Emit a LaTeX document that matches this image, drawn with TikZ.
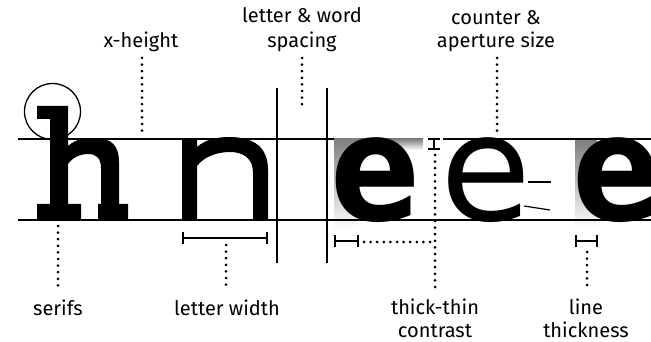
\documentclass[tikz,border=0pt]{standalone}
\usepackage{fontspec}
\usepackage{graphicx}
\setmainfont{Fira Sans}
\newfontfamily\efont{DejaVu Sans}
\definecolor{shade}{RGB}{200,200,200}
\begin{document}
\begin{tikzpicture}[x=1pt,y=-1pt,
  lbl/.style={font=\fontsize{20}{24}\selectfont, inner sep=0pt, anchor=base},
  glyph/.style={inner sep=0pt, anchor=base west},
  guide/.style={line width=2.5pt},
  thinrule/.style={line width=1.3pt},
  dots/.style={line width=3pt, line cap=round, dash pattern=on 0pt off 6.6pt},
  ibeam/.style={line width=2.5pt}]
\useasboundingbox (0,0) rectangle (651,342);
\clip (0,0) rectangle (651,342);
% gray stroke indications
\fill[shade] (334,139) rectangle (423,150);
\fill[shade] (334,139) rectangle (358,229);
\fill[shade] (575,141) rectangle (597,228);
% slab-serif h
\fill (37,106) -- (68,106) -- (68,146)
  .. controls (76,139) and (84,138) .. (95,138)
  .. controls (112,138) and (119,146) .. (119,162)
  -- (119,204) -- (128,204) -- (128,220) -- (98,220) -- (98,204) -- (101,204) -- (101,168)
  .. controls (101,158) and (96,154) .. (88,154)
  .. controls (80,154) and (72,158) .. (68,164)
  -- (68,204) -- (81,204) -- (81,220) -- (37,220) -- (37,204) -- (50,204) -- (50,119) -- (37,119) -- cycle;
% sans n
\fill (182,139) -- (197,139) -- (197,147)
  .. controls (205,140) and (216,137) .. (229,137)
  .. controls (255,137) and (268,148) .. (268,170)
  -- (268,220) -- (253,220) -- (253,173)
  .. controls (253,159) and (244,152) .. (230,152)
  .. controls (215,152) and (203,158) .. (197,166)
  -- (197,220) -- (182,220) -- cycle;
% e letters
\node[glyph, font=\efont\bfseries\fontsize{148}{148}\selectfont] (e1) at (330,220) {\scalebox{0.9}[1]{e}};
\node[glyph, font=\efont\fontsize{148}{148}\selectfont] (e2) at (440,220) {e};
\node[glyph, font=\efont\bfseries\fontsize{148}{148}\selectfont] (e3) at (572,220) {\scalebox{0.9}[1]{e}};
% guide lines
\coordinate (tl) at (18,139); \coordinate (tm) at (334,139);
\coordinate (tr1) at (443,139); \coordinate (tr2) at (651,139);
\coordinate (bl) at (18,220); \coordinate (br) at (651,220);
\draw[guide] (tl) -- (tm);
\draw[guide] (tr1) -- (tr2);
\draw[guide] (bl) -- (br);
% spacing rules
\coordinate (s1t) at (277,88); \coordinate (s1b) at (277,263);
\coordinate (s2t) at (327,88); \coordinate (s2b) at (327,263);
\draw[thinrule] (s1t) -- (s1b);
\draw[thinrule] (s2t) -- (s2b);
% serif circle
\node[draw, circle, line width=1.3pt, minimum size=56pt, inner sep=0pt] (serif) at (52.5,111.5) {};
% counter / aperture marks
\coordinate (c1) at (528,182); \coordinate (c2) at (551,182);
\coordinate (a1) at (524,206); \coordinate (a2) at (550,210);
\draw[line width=1.2pt] (c1) -- (c2);
\draw[line width=1.2pt] (a1) -- (a2);
% I-beams
\coordinate (w1) at (183,238); \coordinate (w2) at (267,238);
\draw[ibeam] (w1) -- (w2) (183,232) -- (183,244) (267,232) -- (267,244);
\coordinate (k1) at (335,241); \coordinate (k2) at (358,241);
\draw[ibeam] (k1) -- (k2) (335,235) -- (335,247) (358,235) -- (358,247);
\coordinate (t1) at (434,139); \coordinate (t2) at (434,149);
\draw[ibeam] (t1) -- (t2) (428,139) -- (440,139) (428,149) -- (440,149);
\coordinate (l1) at (576,241); \coordinate (l2) at (597,241);
\draw[ibeam] (l1) -- (l2) (576,235) -- (576,247) (597,235) -- (597,247);
% labels
\node[lbl] (xh) at (141,48) {x-height};
\node[lbl] (sp1) at (302,23) {letter \& word};
\node[lbl] (sp2) at (302,48) {spacing};
\node[lbl] (ca1) at (496,25) {counter \&};
\node[lbl] (ca2) at (496,48) {aperture size};
\node[lbl] (sf) at (58,315) {serifs};
\node[lbl] (lw) at (227,315) {letter width};
\node[lbl] (tt1) at (435,314) {thick-thin};
\node[lbl] (tt2) at (435,337) {contrast};
\node[lbl] (lt1) at (586,314) {line};
\node[lbl] (lt2) at (586,337) {thickness};
% dotted leaders
\coordinate (dxh) at (142,131);
\draw[dots] (142,58) -- (dxh);
\coordinate (dsp) at (302,105);
\draw[dots] (302,58) -- (dsp);
\coordinate (dca) at (497,131);
\draw[dots] (497,58) -- (dca);
\coordinate (dsf) at (58,226);
\draw[dots] (dsf) -- (58,288);
\coordinate (dlw) at (226,245);
\draw[dots] (dlw) -- (226,288);
\coordinate (dtt) at (435,155);
\draw[dots] (dtt) -- (435,288);
\draw[dots] (364,242) -- (430,242);
\coordinate (dlt) at (587,252);
\draw[dots] (dlt) -- (587,288);
\end{tikzpicture}
\end{document}
